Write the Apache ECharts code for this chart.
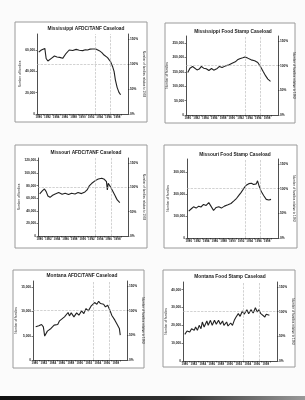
<!DOCTYPE html>
<html>
<head>
<meta charset="utf-8">
<script src="https://cdn.jsdelivr.net/npm/echarts@6/dist/echarts.min.js"></script>
<style>
  html, body { margin: 0; padding: 0; background: #fbfbfb; }
  #main { width: 305px; height: 400px; }
</style>
</head>
<body>
<div id="main"></div>
<script>
// titles of the six panels
var panelTitles = [
    "Mississippi AFDC/TANF Caseload", "Mississippi Food Stamp Caseload",
    "Missouri AFDC/TANF Caseload", "Missouri Food Stamp Caseload",
    "Montana AFDC/TANF Caseload", "Montana Food Stamp Caseload"
];
var yearLabels = [1980, 1982, 1984, 1986, 1988, 1990, 1992, 1994, 1996, 1998];
var yearTicks = [1980,1981,1982,1983,1984,1985,1986,1987,1988,1989,1990,1991,1992,1993,1994,1995,1996,1997,1998,1999];
var markerYears = [1993, 1996.5];
var pctTicks = [0, 50, 100, 150];

// Mississippi AFDC/TANF
var msAfdcYears = [1980.0,1980.6,1981.0,1981.4,1981.7,1982.1,1982.9,1983.6,1984.2,1984.8,1985.5,1986.3,1987.0,1987.8,1988.6,1989.3,1990.1,1990.7,1991.2,1991.8,1992.3,1993.1,1993.9,1994.5,1995.0,1995.8,1996.5,1997.0,1997.3,1997.6,1998.0,1998.4,1998.8];
var msAfdcValues = [58000,60000,60500,61500,52000,49700,52200,54400,53500,53100,52200,56900,60000,59500,60600,59800,59400,60200,60000,60800,61000,61000,59400,57500,55300,52800,49000,44000,40000,32000,25000,20500,18000];

// Mississippi Food Stamp
var msFsYears = [1980.0,1980.5,1981.1,1981.5,1982.1,1982.6,1983.1,1983.6,1984.2,1984.8,1985.4,1985.9,1986.7,1987.2,1987.8,1988.6,1989.4,1990.2,1990.8,1991.3,1991.8,1992.5,1993.0,1993.6,1994.4,1995.2,1995.9,1996.5,1997.1,1997.7,1998.2,1998.8];
var msFsValues = [148000,163000,169000,163000,157000,160000,169000,163000,161000,155000,162000,156000,162000,169000,165000,171000,175000,181000,185000,192000,196000,199000,202000,198000,192000,189000,183000,169000,152000,136000,125000,117000];

// Missouri AFDC/TANF
var moAfdcYears = [1980.0,1980.6,1981.1,1981.5,1981.9,1982.4,1983.0,1983.6,1984.4,1985.2,1985.9,1986.7,1987.4,1988.2,1988.9,1989.7,1990.5,1991.0,1991.5,1992.1,1992.9,1993.6,1994.4,1995.0,1995.5,1995.7,1995.9,1996.4,1997.0,1997.6,1998.0,1998.6];
var moAfdcValues = [66800,71600,74800,70600,63700,61500,64700,66800,69000,66300,67900,65800,67900,66800,69000,67400,70000,73200,79600,83800,88000,90700,91800,90200,86500,73200,83800,78500,70600,62600,57300,53000];

// Missouri Food Stamp
var moFsYears = [1980.0,1980.6,1981.1,1981.7,1982.3,1982.8,1983.4,1984.0,1984.6,1985.1,1985.7,1986.3,1986.9,1987.5,1988.2,1989.0,1989.7,1990.3,1991.0,1991.5,1992.0,1992.6,1993.2,1993.8,1994.4,1994.9,1995.5,1995.8,1996.1,1996.6,1997.2,1997.8,1998.4,1998.9];
var moFsValues = [123000,134000,143000,137000,146000,142000,154000,149000,162000,146000,126000,140000,143000,137000,146000,152000,158000,169000,182000,195000,208000,226000,242000,249000,251000,245000,248000,262000,242000,215000,195000,177000,174000,177000];

// Montana AFDC/TANF
var mtAfdcYears = [1980.2,1980.9,1981.5,1981.9,1982.2,1982.8,1983.6,1984.3,1985.1,1985.5,1985.8,1986.6,1987.0,1987.4,1987.7,1988.1,1988.7,1989.3,1989.8,1990.4,1990.9,1991.4,1991.9,1992.5,1992.9,1993.3,1993.8,1994.2,1994.6,1995.0,1995.3,1995.7,1996.2,1996.7,1997.1,1997.5,1997.8,1998.2,1998.5,1998.8,1999.0];
var mtAfdcValues = [6850,7050,7330,6850,4930,5960,6510,7190,7330,8080,7880,8900,9250,9800,9110,9730,8900,9730,9250,10140,9590,10620,10140,11100,10750,11850,11510,12120,11640,11850,11510,10960,11300,10270,9250,9450,8220,7530,7190,6510,5140];

// Montana Food Stamp
var mtFsYears = [1980.0,1980.5,1981.1,1981.5,1982.1,1982.4,1982.8,1983.2,1983.6,1983.9,1984.3,1984.9,1985.2,1985.7,1986.1,1986.6,1987.0,1987.5,1987.9,1988.4,1988.7,1989.3,1989.6,1990.2,1990.6,1991.0,1991.4,1991.9,1992.3,1992.8,1993.2,1993.8,1994.2,1994.7,1995.2,1995.7,1996.1,1996.5,1996.9,1997.2,1997.8,1998.1,1998.5,1998.8];
var mtFsValues = [14950,16820,16260,18130,17200,19070,17200,20000,18130,21870,19070,22430,20000,22800,20000,22800,20560,22800,20560,22430,20000,21870,19630,21310,20000,22800,24670,26540,25050,28040,26170,28790,26540,28790,26920,29910,27480,28790,26540,27480,24670,26170,25050,25610];

// left axis range / interval of each panel
var leftMax = [75000, 275000, 124000, 362000, 16300, 44300];
var leftStep = [20000, 50000, 20000, 100000, 5000, 10000];

// panel placement: box, plot area, title centre line
var boxes = [
    [15, 22, 132, 100], [165, 23, 130, 100],
    [15, 145, 132, 103], [164, 145, 133, 103],
    [13, 270, 131, 98], [163, 270, 132, 97]
];
var plots = [
    [37, 34, 91, 80], [186, 36, 92, 79],
    [38, 158, 90, 78], [187, 159, 91, 79],
    [33, 281, 94, 79], [183, 282, 94, 79]
];
var titleCentres = [[86, 29], [233, 32], [86, 153], [235, 155], [82, 276], [230, 277]];

function pairs(xs, ys) {
    var out = [];
    for (var i = 0; i < xs.length; i++) out.push([xs[i], ys[i]]);
    return out;
}

var allData = [
    pairs(msAfdcYears, msAfdcValues), pairs(msFsYears, msFsValues),
    pairs(moAfdcYears, moAfdcValues), pairs(moFsYears, moFsValues),
    pairs(mtAfdcYears, mtAfdcValues), pairs(mtFsYears, mtFsValues)
];

var ink = "#222";
var font = "Liberation Sans";
var grids = [], xAxes = [], yAxes = [], series = [], titles = [], graphics = [];

for (var i = 0; i < 6; i++) {
    var b = boxes[i], p = plots[i], t = titleCentres[i];
    graphics.push({
        type: "rect",
        shape: { x: b[0], y: b[1], width: b[2], height: b[3] },
        style: { fill: "#ffffff", stroke: "#9a9a9a", lineWidth: 1 },
        z: -10
    });
    titles.push({
        text: panelTitles[i],
        left: t[0],
        top: t[1] - 3,
        padding: 0,
        textAlign: "center",
        textStyle: { fontSize: 4.8, fontWeight: "bold", color: ink, fontFamily: font }
    });
    grids.push({ left: p[0], top: p[1], width: p[2], height: p[3], show: false });
    xAxes.push({
        type: "value", gridIndex: i, min: 1979.6, max: 2000.5,
        axisLine: { lineStyle: { color: ink, width: 0.8 } },
        axisTick: { customValues: yearTicks, length: 1.5, lineStyle: { color: ink, width: 0.6 } },
        axisLabel: {
            customValues: yearLabels, fontSize: 3, margin: 2, color: ink, fontFamily: font, fontWeight: "bold",
            formatter: function (v) { return String(v); }
        },
        splitLine: { show: false }
    });
    yAxes.push({
        type: "value", gridIndex: i, min: 0, max: leftMax[i], interval: leftStep[i],
        name: "Number of families", nameLocation: "middle", nameGap: 15, nameRotate: 90,
        nameTextStyle: { fontSize: 3.2, color: ink, fontFamily: font },
        axisLine: { show: true, lineStyle: { color: ink, width: 0.8 } },
        axisTick: { show: true, length: 1.5, lineStyle: { color: ink, width: 0.6 } },
        axisLabel: {
            fontSize: 3.2, margin: 2, color: ink, showMaxLabel: false, fontFamily: font, fontWeight: "bold",
            formatter: function (v) { return v.toLocaleString("en-US"); }
        },
        splitLine: { show: false }
    });
    yAxes.push({
        type: "value", gridIndex: i, position: "right", min: 0, max: 160,
        axisLabel: {
            customValues: pctTicks, fontSize: 3.2, margin: 2, color: ink, fontFamily: font, fontWeight: "bold",
            formatter: "{value}%"
        },
        axisTick: { customValues: pctTicks, length: 1.5, lineStyle: { color: ink, width: 0.6 } },
        name: "Number of families relative to 1993", nameLocation: "middle", nameGap: 10, nameRotate: -90,
        nameTextStyle: { fontSize: 3, color: ink, fontFamily: font },
        axisLine: { show: true, lineStyle: { color: ink, width: 0.8 } },
        splitLine: { show: false }
    });
    series.push({
        type: "line",
        xAxisIndex: i,
        yAxisIndex: i * 2,
        data: allData[i],
        showSymbol: false,
        lineStyle: { color: "#222", width: 1.1 },
        markLine: {
            silent: true, symbol: "none",
            label: { show: false },
            lineStyle: { color: "#b4b4b4", type: "dashed", width: 0.6 },
            data: markerYears.map(function (yr) { return { xAxis: yr }; })
                .concat([{ yAxis: leftMax[i] * 100 / 160 }])
        }
    });
}

// scanner shadow along the bottom of the page
graphics.push({
    type: "rect",
    shape: { x: 0, y: 396, width: 305, height: 4 },
    style: {
        fill: new echarts.graphic.LinearGradient(0, 0, 1, 0, [
            { offset: 0, color: "#111" }, { offset: 0.6, color: "#333" }, { offset: 1, color: "#999" }
        ])
    },
    z: -10
});

var chart = echarts.init(document.getElementById("main"));
chart.setOption({
    backgroundColor: "#fbfbfb",
    animation: false,
    title: titles,
    graphic: graphics,
    grid: grids,
    xAxis: xAxes,
    yAxis: yAxes,
    series: series
});
</script>
</body>
</html>
